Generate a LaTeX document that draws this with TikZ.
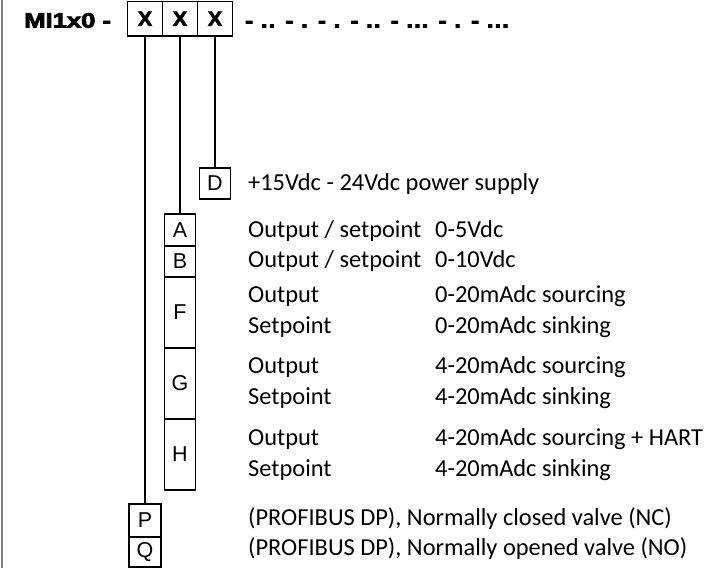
\documentclass[tikz,border=0pt]{standalone}
\usepackage{fontspec}
\usepackage{tikz}
\usetikzlibrary{positioning}
\newfontfamily\bodyfont{Carlito}
\newfontfamily\boxfont{Liberation Sans}
\newfontfamily\headfont[FakeBold=4,FakeStretch=1.25]{Liberation Sans}
\newfontfamily\xfont[FakeBold=3,FakeStretch=1.05]{Liberation Sans}
\newfontfamily\dotsfont[FakeBold=4,FakeStretch=1.2,LetterSpace=5]{Liberation Sans}

\tikzset{
	codebox/.style={draw, line width=1.1pt, inner sep=0pt, outer sep=0pt,
		minimum width=31pt, minimum height=31pt,
		font=\boxfont\fontsize{21.5}{24}\selectfont},
	xbox/.style={codebox, minimum width=35pt, minimum height=34.5pt,
		font=\xfont\bfseries\fontsize{20.5}{24}\selectfont},
	desc/.style={anchor=base west, inner sep=0pt,
		font=\bodyfont\fontsize{24.4}{28}\selectfont},
	link/.style={line width=1.1pt}
}

\begin{document}
\begin{tikzpicture}[x=1pt,y=-1pt]
	\useasboundingbox (0,0) rectangle (722,568);
	\draw[gray, line width=2pt] (1.5,0) -- (1.5,568);

	% model code
	\node[anchor=base west, inner sep=0pt, font=\headfont\bfseries\fontsize{20.5}{24}\selectfont]
		(model) at (24,27.5) {MI1x0 -};
	\node[xbox] (x1) at (145,18.75) {X};
	\node[xbox, right=0pt of x1] (x2) {X};
	\node[xbox, right=0pt of x2] (x3) {X};
	\node[anchor=base west, inner sep=0pt, font=\dotsfont\bfseries\fontsize{20}{24}\selectfont]
		(rest) at (245,27.5) {- .. - . - . - .. - ... - . - ...};

	% supply
	\node[codebox] (D) at (215,183.5) {D};

	% signal type
	\node[codebox, minimum height=32pt] (A) at (180,230) {A};
	\node[codebox, below=0pt of A] (B) {B};
	\node[codebox, minimum height=71pt, below=0pt of B] (F) {F};
	\node[codebox, minimum height=71pt, below=0pt of F] (G) {G};
	\node[codebox, minimum height=71pt, below=0pt of G] (H) {H};

	% valve
	\node[codebox, minimum width=32pt, minimum height=33pt] (P) at (145,520.5) {P};
	\node[codebox, minimum width=32pt, minimum height=30pt, below=0pt of P] (Q) {Q};

	\draw[link] (x1.south) -- (P.north);
	\draw[link] (x2.south) -- (A.north);
	\draw[link] (x3.south) -- (D.north);

	% descriptions
	\node[desc] (tD) at (248,190) {+15Vdc - 24Vdc power supply};
	\node[desc] (tA) at (248,237) {Output / setpoint};
	\node[desc] (vA) at (435,237) {0-5Vdc};
	\node[desc] (tB) at (248,267) {Output / setpoint};
	\node[desc] (vB) at (435,267) {0-10Vdc};
	\node[desc] (tF1) at (248,302) {Output};
	\node[desc] (vF1) at (435,302) {0-20mAdc sourcing};
	\node[desc] (tF2) at (248,333) {Setpoint};
	\node[desc] (vF2) at (435,333) {0-20mAdc sinking};
	\node[desc] (tG1) at (248,373) {Output};
	\node[desc] (vG1) at (435,373) {4-20mAdc sourcing};
	\node[desc] (tG2) at (248,404) {Setpoint};
	\node[desc] (vG2) at (435,404) {4-20mAdc sinking};
	\node[desc] (tH1) at (248,445) {Output};
	\node[desc] (vH1) at (435,445) {4-20mAdc sourcing + HART};
	\node[desc] (tH2) at (248,476) {Setpoint};
	\node[desc] (vH2) at (435,476) {4-20mAdc sinking};
	\node[desc] (tP) at (248,525) {(PROFIBUS DP), Normally closed valve (NC)};
	\node[desc] (tQ) at (248,555) {(PROFIBUS DP), Normally opened valve (NO)};
\end{tikzpicture}
\end{document}
